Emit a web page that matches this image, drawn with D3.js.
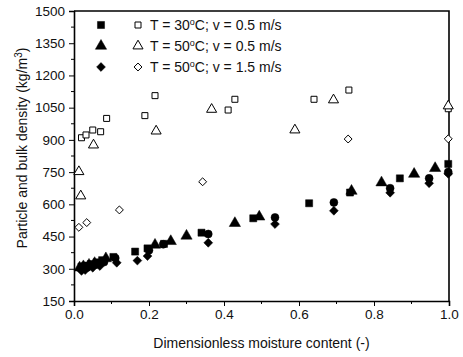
<!DOCTYPE html>
<html>
<head>
<meta charset="utf-8">
<script src="https://cdn.jsdelivr.net/npm/d3@7/dist/d3.min.js"></script>
<style>
  html, body { margin: 0; padding: 0; background: #fff; }
  svg { display: block; font-family: Arial, "Liberation Sans", Helvetica, sans-serif; }
</style>
</head>
<body>
<svg id="chart" width="463" height="357"></svg>
<script>
// Particle density (open symbols) and bulk density (filled symbols)
// versus dimensionless moisture content.
const xTicks = [0.0, 0.2, 0.4, 0.6, 0.8, 1.0];
const yTicks = [150, 300, 450, 600, 750, 900, 1050, 1200, 1350, 1500];

const legendLabels = [
  { pre: "T = 30", post: "C; v = 0.5 m/s" },
  { pre: "T = 50", post: "C; v = 0.5 m/s" },
  { pre: "T = 50", post: "C; v = 1.5 m/s" }
];

// Particle density, T = 30 °C, v = 0.5 m/s
const particle30 = [
  [0.020, 910], [0.032, 923], [0.050, 946], [0.071, 938], [0.087, 1000],
  [0.189, 1013], [0.216, 1106], [0.411, 1039], [0.429, 1089], [0.640, 1089],
  [0.733, 1132], [0.998, 1045]
];
// Particle density, T = 50 °C, v = 0.5 m/s
const particle50a = [
  [0.013, 752], [0.018, 639], [0.052, 876], [0.219, 941], [0.367, 1042],
  [0.589, 946], [0.692, 1086], [0.998, 1058]
];
// Particle density, T = 50 °C, v = 1.5 m/s
const particle50b = [
  [0.013, 493], [0.034, 515], [0.121, 574], [0.343, 705], [0.731, 904],
  [0.998, 905]
];

// Bulk density, T = 30 °C, v = 0.5 m/s
const bulk30 = [
  [0.020, 310], [0.030, 315], [0.045, 322], [0.060, 330], [0.075, 340],
  [0.105, 355], [0.163, 380], [0.196, 395], [0.240, 416], [0.340, 468],
  [0.478, 535], [0.627, 605], [0.736, 655], [0.869, 721], [0.998, 788]
];
// Bulk density, T = 50 °C, v = 0.5 m/s
const bulk50a = [
  [0.015, 305], [0.025, 311], [0.040, 318], [0.055, 326], [0.085, 348],
  [0.216, 411], [0.258, 428], [0.300, 453], [0.429, 512], [0.494, 542],
  [0.740, 662], [0.820, 701], [0.907, 741], [0.963, 768]
];
// Bulk density, T = 50 °C, v = 1.5 m/s
const bulk50b = [
  [0.020, 290], [0.030, 294], [0.050, 305], [0.069, 313], [0.114, 328],
  [0.169, 338], [0.196, 359], [0.358, 421], [0.536, 508], [0.693, 570],
  [0.843, 654], [0.947, 698], [0.998, 742]
];
// Bulk density, additional run (filled circles)
const bulkExtra = [
  [0.020, 300], [0.035, 306], [0.060, 320], [0.080, 331], [0.110, 350],
  [0.200, 386], [0.238, 414], [0.358, 462], [0.536, 539], [0.693, 609],
  [0.843, 675], [0.947, 721], [0.998, 750]
];

const svg = d3.select("#chart");
const margin = { left: 74, right: 14, top: 11, bottom: 56 };
const W = 463, H = 357;

const x = d3.scaleLinear().domain([0, 1]).range([margin.left, W - margin.right]);
const y = d3.scaleLinear().domain([150, 1500]).range([H - margin.bottom, margin.top]);

const fontSize = 13.5;

// Minor ticks
const xMinor = d3.range(0.1, 1.0, 0.2);
const yMinor = d3.range(225, 1500, 150);

const gx = svg.append("g").attr("transform", `translate(0,${y.range()[0]})`);
gx.call(d3.axisBottom(x).tickValues(xTicks).tickFormat(d3.format(".1f")).tickSize(5).tickPadding(3));
gx.append("g").selectAll("line").data(xMinor).join("line")
  .attr("x1", d => x(d)).attr("x2", d => x(d)).attr("y1", 0).attr("y2", 3)
  .attr("stroke", "#000").attr("stroke-width", 1);

const gy = svg.append("g").attr("transform", `translate(${x.range()[0]},0)`);
gy.call(d3.axisLeft(y).tickValues(yTicks).tickFormat(d3.format("d")).tickSize(5).tickPadding(4));
gy.append("g").selectAll("line").data(yMinor).join("line")
  .attr("y1", d => y(d)).attr("y2", d => y(d)).attr("x1", 0).attr("x2", -3)
  .attr("stroke", "#000").attr("stroke-width", 1);

[gx, gy].forEach(g => {
  g.select(".domain").attr("stroke", "#000").attr("stroke-width", 1.6);
  g.selectAll(".tick line").attr("stroke", "#000").attr("stroke-width", 1);
  g.selectAll(".tick text").attr("fill", "#111").style("font-size", fontSize + "px")
    .style("font-family", "Arial, 'Liberation Sans', sans-serif");
});

// Top and right frame
svg.append("path")
  .attr("d", `M${x(0)},${y(1500)}H${x(1)}V${y(150)}`)
  .attr("fill", "none").attr("stroke", "#000").attr("stroke-width", 1.6);

// Axis titles
svg.append("text")
  .attr("x", (x(0) + x(1)) / 2).attr("y", 348)
  .attr("text-anchor", "middle").style("font-size", "14px").attr("fill", "#111")
  .text("Dimensionless moisture content (-)");

const yt = svg.append("text")
  .attr("transform", `translate(27,${(y(150) + y(1500)) / 2 - 8}) rotate(-90)`)
  .attr("text-anchor", "middle").style("font-size", "14px").attr("fill", "#111");
yt.append("tspan").text("Particle and bulk density (kg/m");
yt.append("tspan").attr("dy", -5).style("font-size", "10px").text("3");
yt.append("tspan").attr("dy", 5).text(")");

// Symbol generators (diamond drawn as a square turned 45 degrees)
const sym = {
  square: d3.symbol().type(d3.symbolSquare),
  triangle: d3.symbol().type(d3.symbolTriangle),
  diamond: d3.symbol().type(d3.symbolDiamond2),
  circle: d3.symbol().type(d3.symbolCircle)
};

function drawSeries(data, type, size, filled) {
  svg.append("g").selectAll("path").data(data).join("path")
    .attr("transform", d => `translate(${x(d[0])},${y(d[1])})`)
    .attr("d", sym[type].size(size)())
    .attr("fill", filled ? "#000" : "#fff")
    .attr("stroke", "#000")
    .attr("stroke-width", filled ? 0.5 : 1);
}

drawSeries(bulkExtra, "circle", 50, true);
drawSeries(bulk30, "square", 50, true);
drawSeries(bulk50a, "triangle", 55, true);
drawSeries(bulk50b, "diamond", 50, true);
drawSeries(particle30, "square", 36, false);
drawSeries(particle50a, "triangle", 44, false);
drawSeries(particle50b, "diamond", 40, false);

// Legend
const legendTypes = ["square", "triangle", "diamond"];
const legendY = [25, 46, 67];
legendLabels.forEach((lab, i) => {
  const cy = legendY[i];
  svg.append("path").attr("transform", `translate(101,${cy})`)
    .attr("d", sym[legendTypes[i]].size(i === 1 ? 55 : 50)()).attr("fill", "#000").attr("stroke", "#000").attr("stroke-width", 0.5);
  svg.append("path").attr("transform", `translate(138,${cy})`)
    .attr("d", sym[legendTypes[i]].size(i === 0 ? 36 : (i === 1 ? 44 : 40))()).attr("fill", "#fff").attr("stroke", "#000").attr("stroke-width", 1);
  const t = svg.append("text").attr("x", 150).attr("y", cy + 5)
    .style("font-size", "14px").attr("fill", "#111");
  t.append("tspan").text(lab.pre);
  t.append("tspan").attr("dy", -5).style("font-size", "9px").text("o");
  t.append("tspan").attr("dy", 5).text(lab.post);
});
</script>
</body>
</html>
